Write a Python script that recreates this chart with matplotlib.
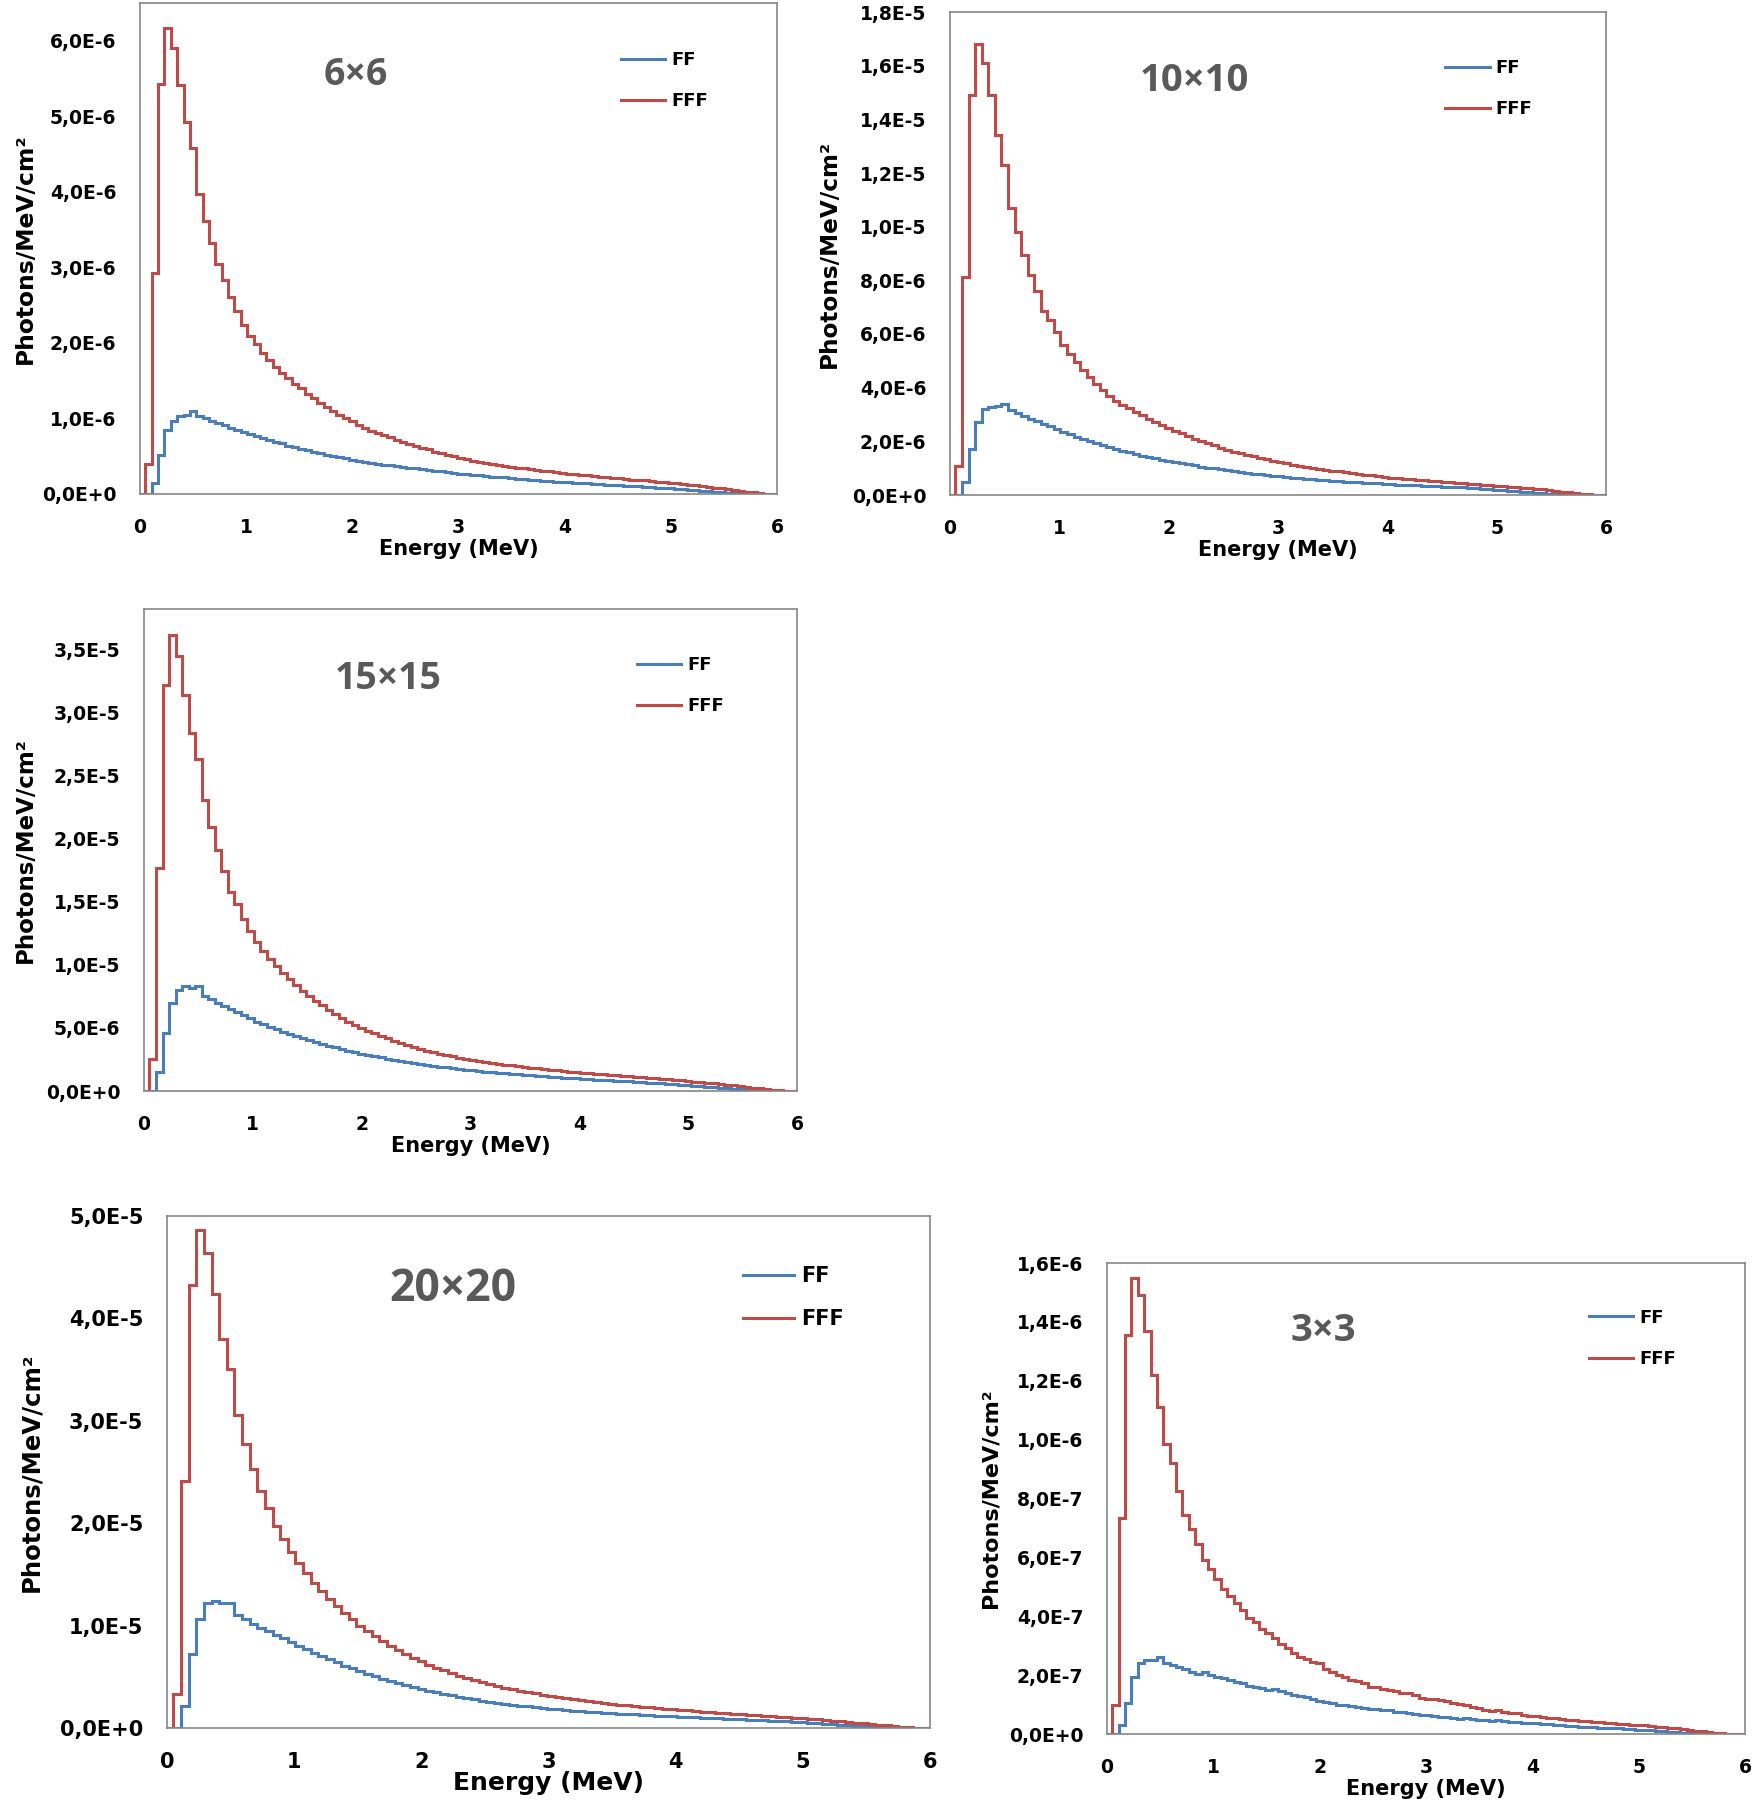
import numpy as np
import matplotlib
matplotlib.use("Agg")
import matplotlib.pyplot as plt
from matplotlib.ticker import MultipleLocator, FuncFormatter

# energy bins (MeV), 0.06 MeV wide
edges = np.linspace(-0.01, 5.99, 101)

# ---- 6x6 field, values in 1e-6 photons/MeV/cm2
ff_6x6 = [0, 0, 0.15, 0.51, 0.85, 0.97, 1.03, 1.05, 1.10, 1.03,
          1.00, 0.97, 0.94, 0.91, 0.88, 0.85, 0.82, 0.79, 0.77, 0.74,
          0.72, 0.69, 0.67, 0.64, 0.62, 0.60, 0.58, 0.56, 0.54, 0.52,
          0.50, 0.49, 0.47, 0.45, 0.44, 0.43, 0.41, 0.40, 0.39, 0.38,
          0.37, 0.36, 0.35, 0.34, 0.33, 0.32, 0.31, 0.30, 0.29, 0.28,
          0.27, 0.26, 0.255, 0.25, 0.24, 0.23, 0.225, 0.22, 0.21, 0.20,
          0.195, 0.19, 0.18, 0.175, 0.17, 0.165, 0.16, 0.155, 0.15, 0.145,
          0.14, 0.135, 0.13, 0.125, 0.12, 0.115, 0.11, 0.105, 0.10, 0.095,
          0.09, 0.085, 0.08, 0.075, 0.07, 0.065, 0.058, 0.05, 0.043, 0.036,
          0.03, 0.024, 0.018, 0.012, 0.006, 0.002, 0, 0, 0, 0]
fff_6x6 = [0, 0.40, 2.93, 5.43, 6.17, 5.90, 5.42, 4.92, 4.58, 3.97,
           3.62, 3.32, 3.05, 2.83, 2.61, 2.42, 2.24, 2.09, 1.98, 1.87,
           1.77, 1.68, 1.60, 1.53, 1.46, 1.40, 1.33, 1.27, 1.21, 1.15,
           1.10, 1.05, 1.00, 0.96, 0.92, 0.88, 0.84, 0.81, 0.78, 0.75,
           0.72, 0.69, 0.66, 0.63, 0.61, 0.59, 0.56, 0.54, 0.52, 0.50,
           0.48, 0.46, 0.44, 0.42, 0.41, 0.40, 0.38, 0.37, 0.36, 0.35,
           0.34, 0.33, 0.32, 0.31, 0.30, 0.29, 0.28, 0.27, 0.26, 0.25,
           0.245, 0.24, 0.23, 0.22, 0.215, 0.21, 0.20, 0.19, 0.185, 0.18,
           0.17, 0.16, 0.155, 0.15, 0.14, 0.13, 0.125, 0.115, 0.105, 0.095,
           0.085, 0.075, 0.065, 0.055, 0.045, 0.033, 0.022, 0.012, 0.004, 0]

# ---- 10x10 field, 1e-6
ff_10x10 = [0, 0, 0.5, 1.7, 2.73, 3.2, 3.27, 3.33, 3.38, 3.15,
            3.05, 2.95, 2.85, 2.75, 2.65, 2.56, 2.45, 2.36, 2.27, 2.18,
            2.10, 2.02, 1.94, 1.86, 1.79, 1.72, 1.65, 1.59, 1.53, 1.47,
            1.42, 1.37, 1.32, 1.27, 1.22, 1.18, 1.14, 1.10, 1.06, 1.02,
            0.99, 0.96, 0.93, 0.89, 0.86, 0.83, 0.80, 0.77, 0.74, 0.72,
            0.69, 0.67, 0.65, 0.63, 0.61, 0.59, 0.57, 0.55, 0.54, 0.52,
            0.50, 0.49, 0.47, 0.46, 0.44, 0.43, 0.42, 0.40, 0.39, 0.38,
            0.37, 0.36, 0.34, 0.33, 0.32, 0.31, 0.30, 0.29, 0.28, 0.27,
            0.25, 0.24, 0.22, 0.20, 0.18, 0.16, 0.14, 0.12, 0.10, 0.08,
            0.065, 0.05, 0.035, 0.02, 0.01, 0.004, 0, 0, 0, 0]
fff_10x10 = [0, 1.07, 8.13, 14.9, 16.8, 16.1, 14.9, 13.4, 12.3, 10.7,
             9.8, 8.96, 8.2, 7.6, 6.87, 6.53, 6.07, 5.6, 5.27, 4.95,
             4.65, 4.38, 4.13, 3.90, 3.69, 3.50, 3.36, 3.23, 3.10, 2.97,
             2.85, 2.73, 2.61, 2.50, 2.40, 2.30, 2.20, 2.10, 2.01, 1.93,
             1.85, 1.77, 1.69, 1.62, 1.56, 1.50, 1.44, 1.38, 1.33, 1.28,
             1.23, 1.18, 1.13, 1.09, 1.05, 1.01, 0.97, 0.94, 0.91, 0.88,
             0.85, 0.82, 0.79, 0.76, 0.73, 0.70, 0.68, 0.65, 0.63, 0.61,
             0.59, 0.57, 0.55, 0.53, 0.51, 0.49, 0.47, 0.45, 0.44, 0.42,
             0.40, 0.38, 0.37, 0.35, 0.33, 0.31, 0.29, 0.27, 0.25, 0.23,
             0.21, 0.18, 0.16, 0.13, 0.10, 0.075, 0.05, 0.025, 0.008, 0]

# ---- 15x15 field, 1e-6
ff_15x15 = [0, 0, 1.47, 4.6, 7.0, 8.0, 8.3, 8.2, 8.3, 7.55,
            7.3, 7.0, 6.75, 6.5, 6.25, 6.0, 5.75, 5.5, 5.3, 5.1,
            4.9, 4.7, 4.52, 4.35, 4.18, 4.02, 3.87, 3.72, 3.58, 3.45,
            3.32, 3.2, 3.08, 2.97, 2.86, 2.76, 2.66, 2.57, 2.48, 2.39,
            2.31, 2.23, 2.15, 2.08, 2.01, 1.94, 1.87, 1.81, 1.75, 1.69,
            1.63, 1.58, 1.53, 1.48, 1.43, 1.39, 1.35, 1.31, 1.27, 1.23,
            1.19, 1.15, 1.12, 1.09, 1.06, 1.03, 1.0, 0.97, 0.94, 0.91,
            0.88, 0.85, 0.82, 0.79, 0.76, 0.73, 0.70, 0.67, 0.64, 0.61,
            0.57, 0.53, 0.49, 0.45, 0.41, 0.37, 0.33, 0.29, 0.25, 0.21,
            0.17, 0.13, 0.09, 0.06, 0.03, 0.01, 0, 0, 0, 0]
fff_15x15 = [0, 2.5, 17.7, 32.2, 36.1, 34.5, 31.4, 28.4, 26.3, 23.1,
             20.9, 19.1, 17.4, 15.8, 14.8, 13.6, 12.7, 11.8, 11.1, 10.5,
             9.9, 9.35, 8.85, 8.4, 7.95, 7.55, 7.15, 6.8, 6.45, 6.1,
             5.8, 5.5, 5.25, 5.0, 4.78, 4.57, 4.37, 4.18, 4.0, 3.83,
             3.66, 3.5, 3.35, 3.2, 3.07, 2.95, 2.84, 2.74, 2.65, 2.56,
             2.48, 2.40, 2.32, 2.24, 2.17, 2.10, 2.03, 1.97, 1.91, 1.85,
             1.79, 1.73, 1.68, 1.63, 1.58, 1.53, 1.48, 1.44, 1.40, 1.36,
             1.32, 1.28, 1.24, 1.20, 1.16, 1.12, 1.08, 1.04, 1.00, 0.96,
             0.92, 0.88, 0.84, 0.80, 0.75, 0.70, 0.65, 0.60, 0.55, 0.50,
             0.44, 0.38, 0.32, 0.26, 0.20, 0.14, 0.09, 0.04, 0.01, 0]

# ---- 20x20 field, 1e-6
ff_20x20 = [0, 0, 2.1, 7.2, 10.6, 12.2, 12.4, 12.2, 12.2, 11.0,
            10.6, 10.2, 9.8, 9.45, 9.1, 8.75, 8.4, 8.05, 7.7, 7.35,
            7.0, 6.7, 6.4, 6.1, 5.82, 5.55, 5.3, 5.06, 4.83, 4.61,
            4.4, 4.2, 4.01, 3.83, 3.66, 3.5, 3.35, 3.2, 3.06, 2.93,
            2.8, 2.68, 2.57, 2.46, 2.36, 2.27, 2.18, 2.1, 2.02, 1.95,
            1.88, 1.81, 1.75, 1.69, 1.63, 1.58, 1.53, 1.48, 1.44, 1.4,
            1.36, 1.32, 1.28, 1.24, 1.2, 1.16, 1.13, 1.1, 1.07, 1.04,
            1.01, 0.98, 0.95, 0.92, 0.89, 0.86, 0.83, 0.8, 0.76, 0.72,
            0.68, 0.64, 0.6, 0.55, 0.5, 0.45, 0.4, 0.35, 0.3, 0.25,
            0.2, 0.16, 0.12, 0.08, 0.05, 0.02, 0.005, 0, 0, 0]
fff_20x20 = [0, 3.3, 24.1, 43.3, 48.6, 46.4, 42.4, 38.0, 35.1, 30.6,
             27.7, 25.3, 23.1, 21.5, 19.7, 18.5, 17.2, 16.1, 15.1, 14.2,
             13.4, 12.6, 11.9, 11.2, 10.6, 10.0, 9.45, 8.95, 8.45, 8.0,
             7.6, 7.2, 6.85, 6.5, 6.2, 5.9, 5.62, 5.36, 5.12, 4.9,
             4.68, 4.48, 4.3, 4.12, 3.95, 3.79, 3.64, 3.5, 3.37, 3.25,
             3.13, 3.02, 2.91, 2.81, 2.71, 2.62, 2.53, 2.45, 2.37, 2.29,
             2.22, 2.15, 2.08, 2.01, 1.95, 1.89, 1.83, 1.77, 1.71, 1.66,
             1.61, 1.56, 1.51, 1.46, 1.41, 1.36, 1.31, 1.26, 1.21, 1.16,
             1.11, 1.06, 1.01, 0.96, 0.9, 0.84, 0.78, 0.72, 0.66, 0.6,
             0.53, 0.46, 0.39, 0.32, 0.25, 0.18, 0.11, 0.05, 0.015, 0]

# ---- 3x3 field, values in 1e-7
ff_3x3 = [0, 0, 0.31, 1.05, 1.92, 2.42, 2.5, 2.5, 2.6, 2.42,
          2.35, 2.28, 2.2, 2.12, 2.05, 2.1, 2.0, 1.93, 1.9, 1.85,
          1.78, 1.72, 1.62, 1.6, 1.55, 1.5, 1.52, 1.45, 1.38, 1.32,
          1.3, 1.26, 1.2, 1.12, 1.08, 1.06, 1.0, 0.98, 0.95, 0.92,
          0.88, 0.86, 0.85, 0.82, 0.8, 0.76, 0.74, 0.72, 0.68, 0.66,
          0.64, 0.6, 0.58, 0.57, 0.54, 0.52, 0.53, 0.5, 0.48, 0.46,
          0.45, 0.46, 0.43, 0.41, 0.4, 0.38, 0.36, 0.37, 0.34, 0.33,
          0.31, 0.29, 0.28, 0.26, 0.25, 0.25, 0.24, 0.22, 0.21, 0.2,
          0.19, 0.18, 0.17, 0.15, 0.14, 0.12, 0.11, 0.09, 0.08, 0.06,
          0.05, 0.04, 0.03, 0.02, 0.01, 0.005, 0, 0, 0, 0]
fff_3x3 = [0, 0.97, 7.35, 13.55, 15.5, 14.9, 13.7, 12.2, 11.1, 9.86,
           9.2, 8.25, 7.44, 6.95, 6.45, 5.9, 5.6, 5.28, 4.92, 4.68,
           4.45, 4.2, 3.95, 3.8, 3.55, 3.42, 3.25, 3.05, 2.92, 2.75,
           2.62, 2.55, 2.45, 2.42, 2.2, 2.12, 2.02, 1.95, 1.85, 1.8,
           1.72, 1.6, 1.58, 1.52, 1.5, 1.46, 1.38, 1.4, 1.32, 1.22,
           1.18, 1.2, 1.14, 1.12, 1.06, 1.02, 0.98, 0.93, 0.9, 0.83,
           0.78, 0.8, 0.74, 0.72, 0.7, 0.66, 0.62, 0.6, 0.58, 0.56,
           0.54, 0.52, 0.49, 0.47, 0.45, 0.44, 0.42, 0.41, 0.39, 0.37,
           0.35, 0.34, 0.32, 0.31, 0.29, 0.27, 0.25, 0.23, 0.21, 0.19,
           0.16, 0.13, 0.11, 0.09, 0.07, 0.05, 0.03, 0.01, 0, 0]

BLUE = "#4A7EBB"
RED = "#BE4B48"
W, H = 1754, 1810


def excel_sci(v, pos):
    if abs(v) < 1e-15:
        return "0,0E+0"
    ex = int(np.floor(np.log10(abs(v)) + 1e-6))
    m = v / 10.0 ** ex
    return ("%.1f" % m).replace(".", ",") + "E%+d" % ex


# title, ff, fff, unit, ymax, ystep, box(px: x0, x1, y0, y1), title pos,
# tick size, xlabel size, ylabel size, title size, ylabel offset px, legend size
panels = [
    ("6\u00d76", ff_6x6, fff_6x6, 1e-6, 6.5e-6, 1e-6, (140, 777, 3, 494), (0.339, 0.853),
     13.5, 15, 16.8, 27, 115, 13),
    ("10\u00d710", ff_10x10, fff_10x10, 1e-6, 1.8e-5, 2e-6, (950, 1606, 12, 495), (0.373, 0.857),
     13.5, 15, 16.7, 27.5, 121, 13),
    ("15\u00d715", ff_15x15, fff_15x15, 1e-6, 3.82e-5, 5e-6, (144, 797, 609, 1091), (0.374, 0.855),
     13.5, 15, 16.5, 27, 119, 13),
    ("20\u00d720", ff_20x20, fff_20x20, 1e-6, 5.0e-5, 1e-5, (167, 930, 1216, 1728), (0.375, 0.857),
     15, 18, 17.6, 32, 136, 15),
    ("3\u00d73", ff_3x3, fff_3x3, 1e-7, 1.6e-6, 2e-7, (1107, 1745, 1263, 1734), (0.339, 0.856),
     13.5, 15, 16, 27.5, 116, 13),
]

fig = plt.figure(figsize=(W / 100, H / 100), dpi=100)
fig.patch.set_facecolor("white")

for (title, ff, fff, unit, ymax, ystep, box, tpos, fs_tick, fs_xl, fs_yl, fs_t, yl_off, fs_leg) in panels:
    x0, x1, y0, y1 = box
    ax = fig.add_axes([x0 / W, 1 - y1 / H, (x1 - x0) / W, (y1 - y0) / H])
    ax.stairs(np.array(ff) * unit, edges, baseline=None, color=BLUE, lw=2.2, label="FF")
    ax.stairs(np.array(fff) * unit, edges, baseline=None, color=RED, lw=2.2, label="FFF")
    ax.set_xlim(0, 6)
    ax.set_ylim(0, ymax)
    ax.xaxis.set_major_locator(MultipleLocator(1))
    ax.yaxis.set_major_locator(MultipleLocator(ystep))
    ax.yaxis.set_major_formatter(FuncFormatter(excel_sci))
    ax.tick_params(length=0, pad=17, labelsize=fs_tick)
    for lab in ax.get_xticklabels() + ax.get_yticklabels():
        lab.set_fontweight("bold")
    for sp in ax.spines.values():
        sp.set_color("#868686")
        sp.set_linewidth(1.2)

    hpx = y1 - y0
    wpx = x1 - x0
    ax.set_xlabel("Energy (MeV)", fontsize=fs_xl, fontweight="bold")
    ax.xaxis.set_label_coords(0.5, -55 / hpx)
    ax.xaxis.label.set_va("center")
    ax.set_ylabel("Photons/MeV/cm\u00b2", fontsize=fs_yl, fontweight="bold")
    ax.yaxis.set_label_coords(-yl_off / wpx, 0.5)
    ax.yaxis.label.set_va("center")

    ax.text(tpos[0], tpos[1], title, transform=ax.transAxes, ha="center", va="center",
            fontsize=fs_t, fontweight="bold", color="#595959", family="Open Sans")

    ax.legend(loc="upper left", bbox_to_anchor=(0.755, 0.880 + 11 / hpx), frameon=False,
              borderpad=0, borderaxespad=0, handlelength=2.45, handletextpad=0.35,
              labelspacing=1.3 if fs_leg < 14 else 1.1,
              prop={"weight": "bold", "size": fs_leg})

fig.savefig("out.png", dpi=100, facecolor="white")
